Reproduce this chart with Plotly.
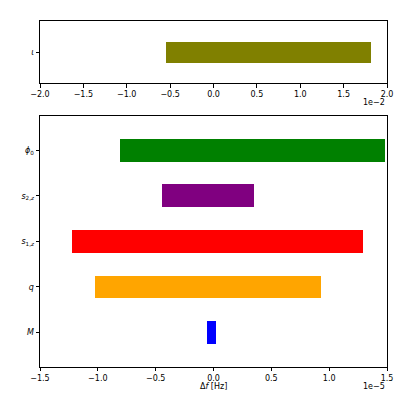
import plotly.graph_objects as go

# top panel: inclination, values in units of 1e-2 Hz
top_labels = ["<i>ι</i>"]
top_lo = [-0.55]
top_hi = [1.81]
top_colors = ["#808000"]

# bottom panel: values in units of 1e-5 Hz (order bottom -> top)
bot_labels = ["<i>M</i>", "<i>q</i>", "<i>s</i><sub>1,<i>z</i></sub>",
              "<i>s</i><sub>2,<i>z</i></sub>", "<i>ϕ</i><sub>0</sub>"]
bot_lo = [-0.053, -1.022, -1.226, -0.442, -0.808]
bot_hi = [0.019, 0.927, 1.290, 0.350, 1.483]
bot_colors = ["#0000ff", "#ffa500", "#ff0000", "#800080", "#008000"]

top_ticks = [-2.0, -1.5, -1.0, -0.5, 0.0, 0.5, 1.0, 1.5, 2.0]
bot_ticks = [-1.5, -1.0, -0.5, 0.0, 0.5, 1.0, 1.5]

# page body has an 8px margin, so the figure is 391px and positions are shifted by 8
OFF = 8
W = H = 391


def px_x(p):
    return (p - OFF) / W


def px_y(p):
    return (H - (p - OFF)) / H


x0, x1 = px_x(40), px_x(387)

fig = go.Figure()
fig.add_trace(go.Bar(
    y=list(range(len(top_lo))), x=[h - l for l, h in zip(top_lo, top_hi)], base=top_lo,
    orientation="h", width=0.5, marker=dict(color=top_colors, line=dict(width=0)),
    xaxis="x", yaxis="y", showlegend=False,
))
fig.add_trace(go.Bar(
    y=list(range(len(bot_lo))), x=[h - l for l, h in zip(bot_lo, bot_hi)], base=bot_lo,
    orientation="h", width=0.5, marker=dict(color=bot_colors, line=dict(width=0)),
    xaxis="x2", yaxis="y2", showlegend=False,
))

axis_style = dict(
    showline=True, linecolor="#000", linewidth=1, mirror=True,
    ticks="outside", ticklen=3.5, tickwidth=0.8, tickcolor="#000",
    showgrid=False, zeroline=False, automargin=False,
    tickfont=dict(size=8, color="#000"),
)

fig.update_layout(
    width=W, height=H,
    margin=dict(l=0, r=0, t=0, b=0),
    paper_bgcolor="white", plot_bgcolor="white",
    font=dict(family="DejaVu Sans", color="#000"),
    bargap=0,
    xaxis=dict(domain=[x0, x1], anchor="y", range=[-2.0, 2.0], tickvals=top_ticks,
               tickformat=".1f", **axis_style),
    yaxis=dict(domain=[px_y(83.3), px_y(20.7)], anchor="x", range=[-0.76, 0.76],
               tickvals=list(range(len(top_labels))), ticktext=top_labels, **axis_style),
    xaxis2=dict(domain=[x0, x1], anchor="y2", range=[-1.5, 1.5], tickvals=bot_ticks,
                tickformat=".1f", **axis_style),
    yaxis2=dict(domain=[px_y(366.7), px_y(116)], anchor="x2", range=[-0.75, 4.75],
                tickvals=list(range(len(bot_labels))), ticktext=bot_labels, **axis_style),
)

fig.add_annotation(x=x1, y=px_y(103), xref="paper", yref="paper", text="1e−2",
                   showarrow=False, xanchor="right", yanchor="middle", font=dict(size=8))
fig.add_annotation(x=x1, y=px_y(386), xref="paper", yref="paper", text="1e−5",
                   showarrow=False, xanchor="right", yanchor="middle", font=dict(size=8))
fig.add_annotation(x=(x0 + x1) / 2, y=px_y(386), xref="paper", yref="paper",
                   text="Δ<i>f</i> [Hz]", showarrow=False, xanchor="center", yanchor="middle",
                   font=dict(size=8))

fig.write_html("out.html")
